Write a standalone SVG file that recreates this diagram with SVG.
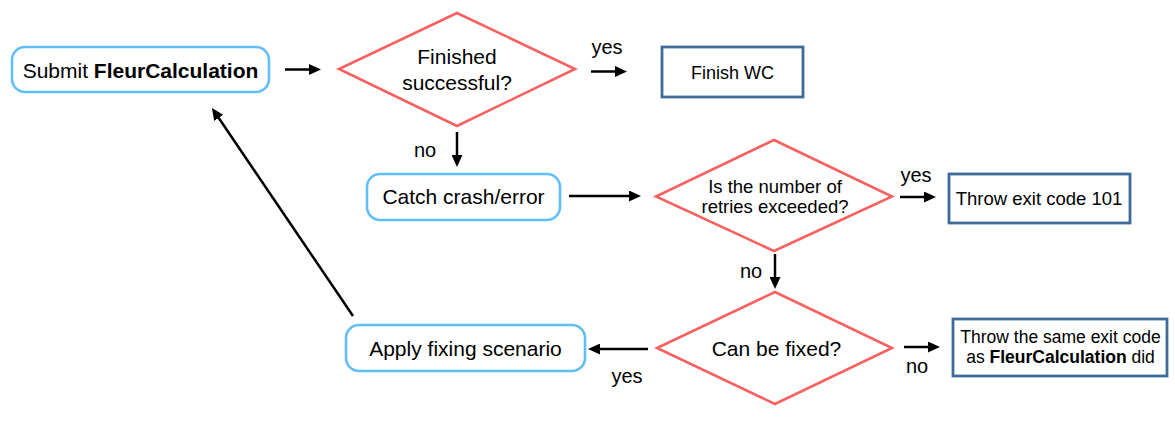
<svg xmlns="http://www.w3.org/2000/svg" width="1175" height="434" viewBox="0 0 1175 434">
<style>
text{font-family:"Liberation Sans",Arial,sans-serif;fill:#000;text-anchor:middle}
.proc{fill:#fff;stroke:#62BEF6;stroke-width:2.6}
.dec{fill:#fff;stroke:#F86161;stroke-width:2.6}
.term{fill:#fff;stroke:#3D6C9B;stroke-width:2.8}
.big{font-size:21px}
.mid{font-size:18.5px}
.lbl{font-size:20px}
.c{stroke:#000;stroke-width:2.5;fill:none;marker-end:url(#ah)}
</style>
<defs>
<marker id="ah" markerUnits="userSpaceOnUse" markerWidth="12" markerHeight="11" refX="8" refY="5.5" orient="auto">
<path d="M0,0 L12,5.5 L0,11 z" fill="#000"/>
</marker>
</defs>
<rect width="1175" height="434" fill="#fff"/>
<g id="connectors">
<line class="c" x1="285" y1="69.5" x2="317" y2="69.5"/>
<line class="c" x1="591" y1="71.5" x2="623" y2="71.5"/>
<line class="c" x1="457" y1="132" x2="457" y2="163"/>
<line class="c" x1="569" y1="196" x2="637" y2="196"/>
<line class="c" x1="900" y1="197" x2="932" y2="197"/>
<line class="c" x1="775" y1="254" x2="775" y2="285"/>
<line class="c" x1="648" y1="349" x2="592" y2="349"/>
<line class="c" x1="904" y1="347" x2="936" y2="347"/>
<line class="c" x1="353" y1="316" x2="214.2" y2="111.3" stroke-width="2.2"/>
<text class="lbl" x="607" y="54">yes</text>
<text class="lbl" x="425" y="157">no</text>
<text class="lbl" x="916" y="182">yes</text>
<text class="lbl" x="751" y="278">no</text>
<text class="lbl" x="627" y="383">yes</text>
<text class="lbl" x="917" y="373">no</text>
</g>
<g id="submit">
<rect class="proc" x="12" y="47" width="257" height="45" rx="13"/>
<text class="big" x="140.5" y="77.5">Submit <tspan font-weight="bold">FleurCalculation</tspan></text>
</g>
<g id="finished">
<polygon class="dec" points="457,13 575,69 457,126 339,69"/>
<text class="big" x="457" y="64">Finished</text>
<text class="big" x="457" y="90">successful?</text>
</g>
<g id="finishwc">
<rect class="term" x="662" y="47" width="141" height="50"/>
<text x="732.5" y="79" font-size="18px">Finish WC</text>
</g>
<g id="catch">
<rect class="proc" x="367" y="174" width="193" height="46" rx="13"/>
<text class="big" x="463.5" y="203.5">Catch crash/error</text>
</g>
<g id="retries">
<polygon class="dec" points="774,140 892,196.5 774,251 656,196.5"/>
<text class="mid" x="775" y="193">Is the number of</text>
<text class="mid" x="775" y="213">retries exceeded?</text>
</g>
<g id="throw101">
<rect class="term" x="949" y="174" width="181" height="49"/>
<text class="mid" x="1039" y="204.5">Throw exit code 101</text>
</g>
<g id="fixable">
<polygon class="dec" points="775,292 892,348 775,404 657,348"/>
<text class="big" x="776.5" y="356">Can be fixed?</text>
</g>
<g id="throwsame">
<rect class="term" x="953" y="319" width="214" height="57"/>
<text x="1060.5" y="342.5" font-size="17.5px">Throw the same exit code</text>
<text x="1060.5" y="362.5" font-size="17.5px">as <tspan font-weight="bold">FleurCalculation</tspan> did</text>
</g>
<g id="apply">
<rect class="proc" x="346" y="325" width="239" height="46" rx="13"/>
<text class="big" x="465.5" y="356">Apply fixing scenario</text>
</g>
</svg>
